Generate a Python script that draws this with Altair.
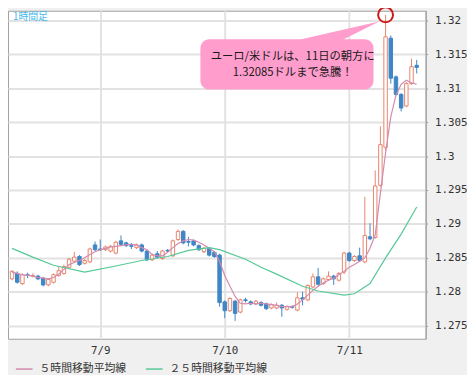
import altair as alt
import pandas as pd

# ---- hourly candles (index 0 = 7/8 07:00 ... 78 = 7/11 13:00) ----
opens = [1.2819, 1.2827, 1.2812, 1.2825, 1.2823, 1.2823, 1.2820, 1.2810, 1.2814, 1.2824,
         1.2827, 1.2836, 1.2845, 1.2852, 1.2842, 1.2844, 1.2869, 1.2863, 1.2862, 1.2860,
         1.2857, 1.2875, 1.2872, 1.2868, 1.2865, 1.2869, 1.2860, 1.2847, 1.2856, 1.2849,
         1.2861, 1.2853, 1.2877, 1.2889, 1.2874, 1.2875, 1.2868, 1.2859, 1.2864, 1.2858,
         1.2854, 1.2785, 1.2772, 1.2786, 1.2770, 1.2788, 1.2785, 1.2782, 1.2784, 1.2782,
         1.2776, 1.2776, 1.2780, 1.2774, 1.2778, 1.2773, 1.2791, 1.2788, 1.2807, 1.2822,
         1.2812, 1.2818, 1.2823, 1.2817, 1.2829, 1.2857, 1.2846, 1.2853, 1.2844, 1.2881,
         1.2880, 1.2957, 1.3013, 1.3174, 1.3117, 1.3091, 1.3074, 1.3107, 1.3134]
closes = [1.2830, 1.2814, 1.2825, 1.2824, 1.2824, 1.2819, 1.2810, 1.2818, 1.2825, 1.2831,
          1.2837, 1.2848, 1.2851, 1.2840, 1.2846, 1.2863, 1.2862, 1.2862, 1.2866, 1.2867,
          1.2873, 1.2870, 1.2868, 1.2867, 1.2869, 1.2860, 1.2847, 1.2854, 1.2851, 1.2860,
          1.2860, 1.2875, 1.2889, 1.2872, 1.2873, 1.2869, 1.2862, 1.2864, 1.2854, 1.2852,
          1.2784, 1.2772, 1.2790, 1.2768, 1.2788, 1.2787, 1.2782, 1.2786, 1.2780, 1.2775,
          1.2781, 1.2780, 1.2776, 1.2778, 1.2777, 1.2791, 1.2789, 1.2809, 1.2822, 1.2811,
          1.2819, 1.2823, 1.2819, 1.2827, 1.2857, 1.2846, 1.2852, 1.2846, 1.2883, 1.2878,
          1.2956, 1.3017, 1.3176, 1.3115, 1.3091, 1.3071, 1.3107, 1.3132, 1.3131]
highs = [1.2832, 1.2830, 1.2827, 1.2828, 1.2827, 1.2825, 1.2822, 1.2820, 1.2827, 1.2838,
         1.2840, 1.2850, 1.2859, 1.2854, 1.2848, 1.2865, 1.2874, 1.2877, 1.2868, 1.2869,
         1.2875, 1.2883, 1.2874, 1.2872, 1.2871, 1.2871, 1.2862, 1.2856, 1.2860, 1.2862,
         1.2863, 1.2877, 1.2892, 1.2891, 1.2881, 1.2877, 1.2870, 1.2866, 1.2866, 1.2860,
         1.2856, 1.2787, 1.2792, 1.2788, 1.2790, 1.2791, 1.2787, 1.2788, 1.2786, 1.2784,
         1.2783, 1.2784, 1.2782, 1.2780, 1.2780, 1.2799, 1.2800, 1.2811, 1.2827, 1.2835,
         1.2821, 1.2830, 1.2825, 1.2829, 1.2859, 1.2859, 1.2854, 1.2865, 1.2940, 1.2901,
         1.2979, 1.3044, 1.32085, 1.3178, 1.3119, 1.3093, 1.3109, 1.3144, 1.3142]
lows = [1.2817, 1.2812, 1.2810, 1.2820, 1.2821, 1.2817, 1.2808, 1.2808, 1.2812, 1.2822,
        1.2825, 1.2834, 1.2843, 1.2838, 1.2840, 1.2842, 1.2860, 1.2860, 1.2860, 1.2858,
        1.2855, 1.2868, 1.2866, 1.2863, 1.2863, 1.2858, 1.2845, 1.2845, 1.2849, 1.2847,
        1.2858, 1.2851, 1.2875, 1.2870, 1.2867, 1.2867, 1.2860, 1.2857, 1.2852, 1.2850,
        1.2778, 1.2761, 1.2770, 1.2757, 1.2768, 1.2784, 1.2780, 1.2780, 1.2778, 1.2773,
        1.2774, 1.2774, 1.2763, 1.2772, 1.2775, 1.2771, 1.2780, 1.2786, 1.2805, 1.2809,
        1.2810, 1.2816, 1.2810, 1.2815, 1.2826, 1.2844, 1.2844, 1.2844, 1.2842, 1.2876,
        1.2878, 1.2955, 1.3008, 1.3107, 1.3089, 1.3066, 1.3072, 1.3105, 1.3122]

# ---- moving averages ----
ma5 = [1.2829, 1.2827, 1.2825, 1.2824, 1.2823, 1.2821, 1.2820, 1.2819, 1.2821, 1.2826,
       1.2833, 1.2840, 1.2843, 1.2846, 1.2850, 1.2855, 1.2859, 1.2862, 1.2864, 1.2866,
       1.2867, 1.2868, 1.2869, 1.2870, 1.2869, 1.2865, 1.2862, 1.2855, 1.2853, 1.2853,
       1.2858, 1.2865, 1.2871, 1.2875, 1.2877, 1.2876, 1.2873, 1.2869, 1.2864, 1.2859,
       1.2845, 1.2824, 1.2808, 1.2793, 1.2783, 1.2782, 1.2783, 1.2782, 1.2783, 1.2782,
       1.2781, 1.2780, 1.2778, 1.2778, 1.2778, 1.2782, 1.2788, 1.2795, 1.2802, 1.2808,
       1.2813, 1.2817, 1.2820, 1.2825, 1.2830, 1.2836, 1.2840, 1.2845, 1.2850, 1.2864,
       1.2884, 1.2945, 1.3005, 1.3058, 1.3090, 1.3106, 1.3112, 1.3108, 1.3106]
ma25_hour = [0, 4, 8, 14, 20, 25, 30, 34, 38, 40, 45, 48, 51, 56, 59, 64, 66, 69, 72, 75, 78]
ma25 = [1.2864, 1.2851, 1.2839, 1.2829, 1.2838, 1.2846, 1.2852, 1.2861, 1.2865, 1.2862,
        1.2848, 1.2836, 1.2826, 1.2808, 1.2801, 1.2795, 1.2797, 1.2812, 1.2850, 1.2885, 1.2925]

series_names = ["５時間移動平均線", "２５時間移動平均線"]
series_colors = ["#d48aae", "#55c996"]

x_tick_pos = [17, 41, 65]
x_tick_labels = ["7/9", "7/10", "7/11"]
y_ticks = [1.275, 1.28, 1.285, 1.29, 1.295, 1.3, 1.305, 1.31, 1.315, 1.32]

# ---- annotation ----
callout_lines = ["ユーロ/米ドルは、11日の朝方に", "1.32085ドルまで急騰！"]
callout_line_x = [54.1, 54.1]
callout_line_y = [1.31462, 1.31230]
box_x = [36.31, 69.67]
box_y = [1.317238, 1.30983]
ptr_x = [55.77, 63.55, 70.78]
ptr_top = [1.317238, 1.318594, 1.319855]
ptr_bot = [1.317093, 1.317093, 1.319855]
peak_hour = [72]
peak_value = [1.32085]

UP_C = "#e8846c"
DOWN_C = "#3f86c6"
CALLOUT = "#ff9dcc"
MONO = "DejaVu Sans Mono"
JP = "Noto Sans CJK JP"

candles = pd.DataFrame({"i": list(range(len(opens))), "O": opens, "H": highs,
                        "L": lows, "C": closes})
ma_df = pd.DataFrame({
    "i": list(range(len(ma5))) + ma25_hour,
    "v": ma5 + ma25,
    "series": [series_names[0]] * len(ma5) + [series_names[1]] * len(ma25),
})

label_expr = " : ".join(
    [f"datum.value == {p} ? '{t}'" for p, t in zip(x_tick_pos[:-1], x_tick_labels[:-1])]
    + [f"'{x_tick_labels[-1]}'"]
)

xscale = alt.Scale(domain=[0.17, 78.77], nice=False, zero=False)
yscale = alt.Scale(domain=[1.27306, 1.32145], nice=False, zero=False)

x_axis = alt.Axis(values=x_tick_pos, labelExpr=label_expr, title=None, grid=True,
                  ticks=False, domain=False, labelPadding=6, labelFont=MONO,
                  labelFontSize=11, labelColor="#333333", gridColor="#e2e2e2",
                  gridWidth=2, labelAngle=0)
y_axis = alt.Axis(orient="right", values=y_ticks, format=".3~f", title=None, grid=True,
                  ticks=True, tickSize=2, tickColor="#999999", domain=True,
                  domainColor="#999999", labelPadding=7, labelFont=MONO,
                  labelFontSize=11, labelColor="#333333", gridColor="#e2e2e2",
                  gridWidth=2)


def X(f):
    return alt.X(f, type="quantitative", scale=xscale, axis=x_axis)


def Y(f):
    return alt.Y(f, type="quantitative", scale=yscale, axis=y_axis)


up = "datum.C >= datum.O"

wicks = alt.Chart(candles).mark_rule(strokeWidth=1).encode(
    x=X("i"), y=Y("L"), y2="H",
    color=alt.condition(up, alt.value(UP_C), alt.value(DOWN_C)),
)
bodies = alt.Chart(candles).mark_bar(size=3.5, strokeWidth=1).encode(
    x=X("i"), y=Y("O"), y2="C",
    fill=alt.condition(up, alt.value("#ffffff"), alt.value(DOWN_C)),
    stroke=alt.condition(up, alt.value(UP_C), alt.value(DOWN_C)),
)
lines = alt.Chart(ma_df).mark_line(strokeWidth=1.2).encode(
    x=X("i"), y=Y("v"),
    color=alt.Color("series:N",
                    scale=alt.Scale(domain=series_names, range=series_colors),
                    legend=alt.Legend(orient="none", legendX=7, legendY=354,
                                      direction="horizontal", title=None,
                                      symbolType="stroke", symbolSize=289,
                                      symbolStrokeWidth=1.5, labelFont=JP,
                                      labelFontSize=11, labelColor="#333333",
                                      columnPadding=17, labelOffset=6, padding=0)),
)

pointer = alt.Chart(pd.DataFrame({"px": ptr_x, "top": ptr_top, "bot": ptr_bot})).mark_area(
    color=CALLOUT, opacity=1).encode(x=X("px"), y=Y("top"), y2="bot")
rect = alt.Chart(pd.DataFrame({"x1": [box_x[0]], "x2": [box_x[1]],
                               "y1": [box_y[0]], "y2": [box_y[1]]})).mark_rect(
    cornerRadius=9, color=CALLOUT, opacity=1).encode(x=X("x1"), x2="x2", y=Y("y1"), y2="y2")
text = alt.Chart(pd.DataFrame({"x": callout_line_x, "y": callout_line_y,
                               "t": callout_lines})).mark_text(
    font=JP, fontSize=11.5, color="#1a1a1a", align="center", baseline="middle").encode(
    x=X("x"), y=Y("y"), text="t:N")
circle = alt.Chart(pd.DataFrame({"x": peak_hour, "y": peak_value})).mark_point(
    shape="circle", size=230, filled=False, color="#cc1a1a", strokeWidth=2,
    opacity=1).encode(x=X("x"), y=Y("y"))
label = alt.Chart(pd.DataFrame({"t": ["1時間足"]})).mark_text(
    align="left", baseline="top", fontSize=10, color="#44b8ec", font=JP).encode(
    x=alt.value(5), y=alt.value(1), text="t:N")

chart = alt.layer(wicks, bodies, lines, pointer, rect, text, circle, label).properties(
    width=424, height=333,
    autosize=alt.AutoSizeParams(type="none"),
    padding={"left": 0, "top": 0, "right": 42, "bottom": 34},
    background="#f0f0f0",
).configure_view(fill="white", stroke="#a0a0a0", strokeWidth=1)

chart.save("out.html", embed_options={"renderer": "svg", "actions": False})
